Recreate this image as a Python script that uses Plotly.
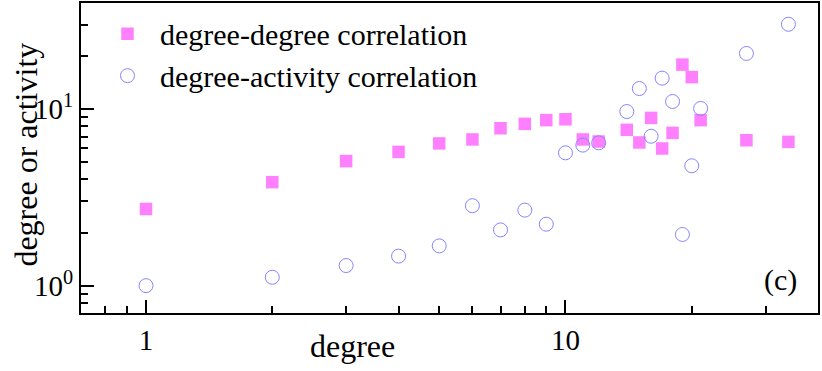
import plotly.graph_objects as go

# degree-degree correlation (filled squares)
dd_k = [1, 2, 3, 4, 5, 6, 7, 8, 9, 10, 11, 12, 14, 15, 16, 17, 18, 19, 20, 21, 27, 34]
dd_v = [2.72, 3.86, 5.08, 5.73, 6.4, 6.74, 7.8, 8.26, 8.67, 8.77, 6.74, 6.56, 7.64, 6.48,
        8.93, 5.99, 7.34, 17.9, 15.2, 8.67, 6.67, 6.53]

# degree-activity correlation (open circles)
da_k = [1, 2, 3, 4, 5, 6, 7, 8, 9, 10, 11, 12, 14, 15, 16, 17, 18, 19, 20, 21, 27, 34]
da_v = [1.0, 1.116, 1.30, 1.47, 1.68, 2.84, 2.07, 2.68, 2.23, 5.66, 6.26, 6.45, 9.70, 13.1,
        7.03, 15.0, 11.06, 1.95, 4.78, 10.1, 20.7, 30.3]

x_ticks = [1, 10]
x_ticktext = ["1", "10"]
y_ticks = [1, 10]
y_ticktext = ["10<sup>0</sup>", "10<sup>1</sup>"]

font_name = "Liberation Serif"

fig = go.Figure()
fig.add_trace(go.Scatter(x=dd_k, y=dd_v, mode='markers', name='degree-degree correlation',
                         marker=dict(symbol='square', size=12.5, color='#ff80ff', line=dict(width=0))))
fig.add_trace(go.Scatter(x=da_k, y=da_v, mode='markers', name='degree-activity correlation',
                         marker=dict(symbol='circle-open', size=14, color='#8585ff', line=dict(width=1))))

axis_style = dict(type='log', range=[-0.155, 1.602], showgrid=False, showline=True, linewidth=2,
                  linecolor='black', mirror=True, ticks='inside', ticklen=13, tickwidth=2,
                  tickcolor='black', zeroline=False, automargin=False,
                  tickfont=dict(size=29, family=font_name, color='black'),
                  minor=dict(ticks='inside', ticklen=7, tickwidth=2, tickcolor='black',
                             dtick='D1', showgrid=False))
fig.update_xaxes(tickvals=x_ticks, ticktext=x_ticktext, **axis_style)
fig.update_yaxes(tickvals=y_ticks, ticktext=y_ticktext, **axis_style)

# axis titles and panel label
fig.add_annotation(x=0.3684, y=-0.105, xref='paper', yref='paper', xanchor='center', yanchor='middle',
                   text='degree', showarrow=False, font=dict(size=32, family=font_name, color='black'))
fig.add_annotation(x=-0.0746, y=0.511, xref='paper', yref='paper', xanchor='center', yanchor='middle',
                   text='degree or activity', textangle=-90, showarrow=False,
                   font=dict(size=32, family=font_name, color='black'))
fig.add_annotation(x=0.949, y=0.106, xref='paper', yref='paper', xanchor='center', yanchor='middle',
                   text='(c)', showarrow=False, font=dict(size=30, family=font_name, color='black'))

fig.update_layout(
    width=822, height=371,
    margin=dict(l=81, r=4, t=3, b=58),
    plot_bgcolor='white', paper_bgcolor='white',
    font=dict(family=font_name, color='black'),
    showlegend=True,
    legend=dict(x=0.019, y=0.985, xanchor='left', yanchor='top', bgcolor='rgba(0,0,0,0)',
                font=dict(size=30, family=font_name, color='black'),
                itemwidth=55),
)

fig.write_html("out.html", config={'displayModeBar': False},
               post_script="document.body.style.margin='0';")
